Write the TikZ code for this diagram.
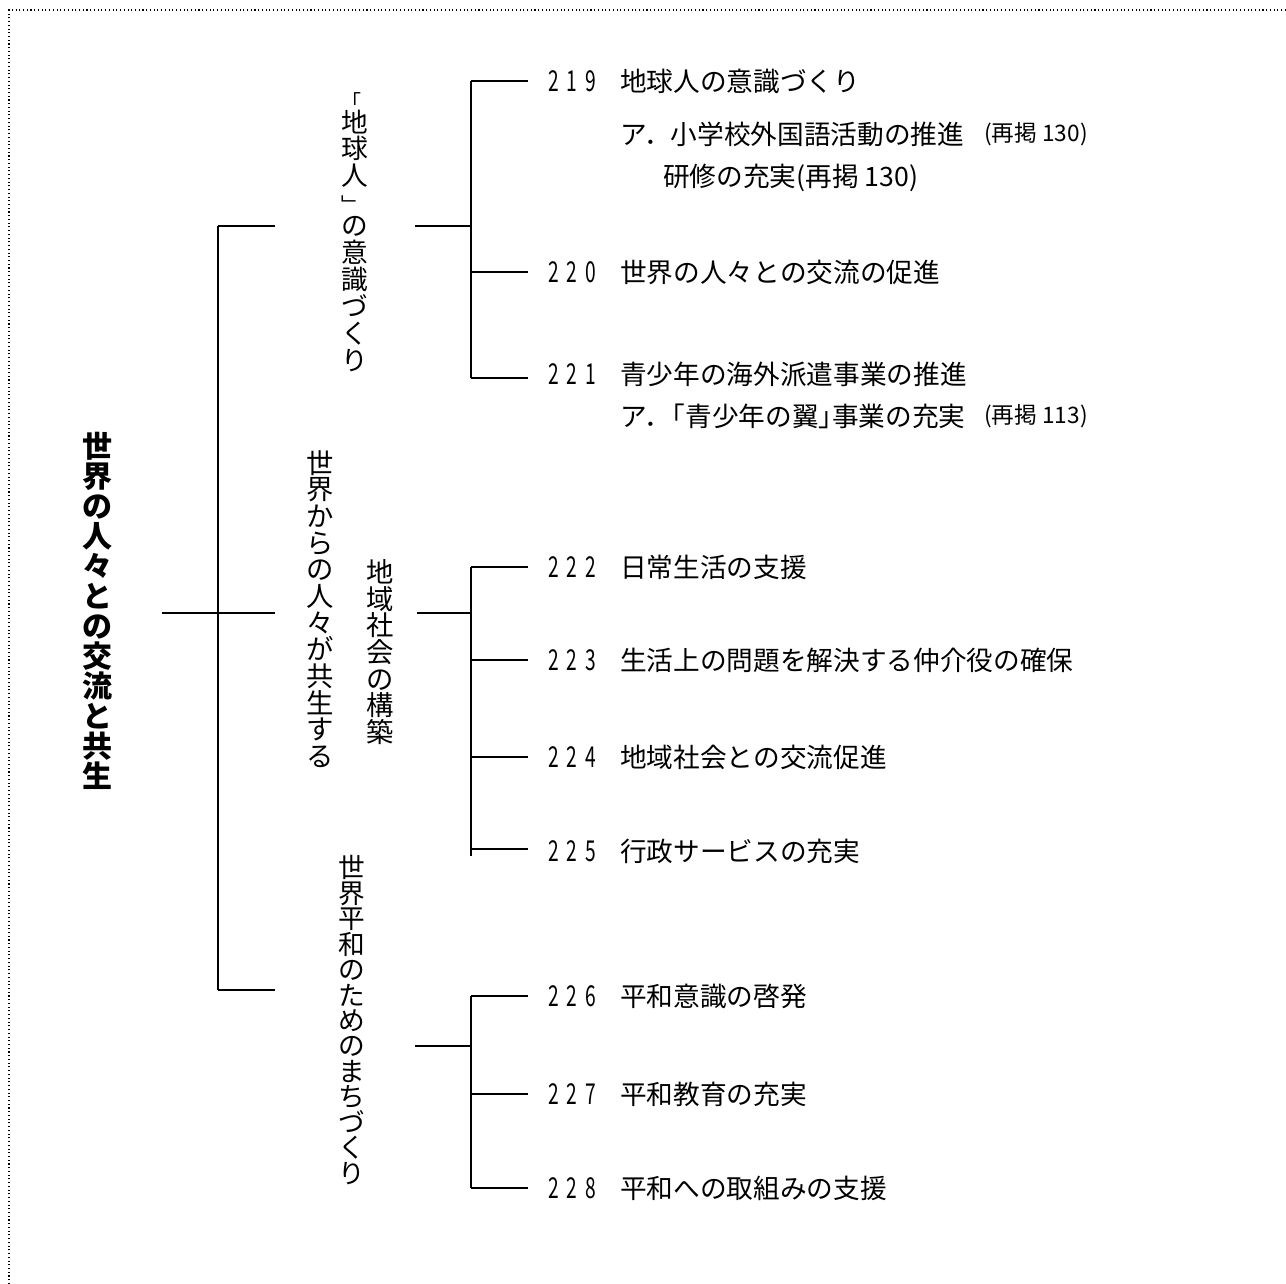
\documentclass[tikz,border=0pt]{standalone}
\usepackage{fontspec}
\usepackage{graphicx}
\setmainfont{Noto Sans CJK JP}
\newcommand\dgt[1]{\makebox[13.9pt][l]{\scalebox{0.72}[1.08]{#1}}}
\newcommand\nmb[3]{\makebox[54pt][l]{\dgt{#1}\dgt{#2}\dgt{#3}}}
\newcommand\brk[1]{\makebox[1em]{\kern-0.3em{\fontsize{15pt}{15pt}\selectfont #1}}}
\tikzset{
  ln/.style={line width=1.3pt},
  vtext/.style={align=center, inner sep=0pt, font=\fontsize{20.5pt}{20pt}\selectfont},
  lab/.style={anchor=west, inner sep=0pt, font=\fontsize{20pt}{22pt}\selectfont},
  smalllab/.style={anchor=west, inner sep=0pt, font=\fontsize{17pt}{19pt}\selectfont},
}
\begin{document}
\begin{tikzpicture}[x=0.75pt,y=-0.75pt]
\useasboundingbox (0,0) rectangle (1286,1284);
\draw[dotted, line width=0.8pt] (9,1284) -- (9,10) -- (1286,10);

% root
\node[vtext, font=\fontsize{22.5pt}{22.5pt}\selectfont\bfseries] (root) at (97,611)
  {世\\界\\の\\人\\々\\と\\の\\交\\流\\と\\共\\生};

% second level
\node[vtext, font=\fontsize{20pt}{20.2pt}\selectfont] (A) at (355,232)
  {\brk{「}\\[-3pt]地\\球\\人\\[0pt]\brk{﹂}\\[-3pt]の\\意\\識\\づ\\く\\り};
\node[vtext] (B1) at (320,609)
  {世\\界\\か\\ら\\の\\人\\々\\が\\共\\生\\す\\る};
\node[vtext] (B2) at (380,652)
  {地\\域\\社\\会\\の\\構\\築};
\node[vtext, font=\fontsize{20pt}{19.1pt}\selectfont] (C) at (352,1020)
  {世\\界\\平\\和\\の\\た\\め\\の\\ま\\ち\\づ\\く\\り};

% top-level tree
\coordinate (r0) at (162,613);
\coordinate (j0) at (218,613);
\coordinate (tA) at (218,226);
\coordinate (tC) at (218,990);
\coordinate (eA) at (275,226);
\coordinate (eB) at (275,613);
\coordinate (eC) at (275,990);
\draw[ln] (r0) -- (j0);
\draw[ln] (tA) -- (tC);
\draw[ln] (tA) -- (eA);
\draw[ln] (j0) -- (eB);
\draw[ln] (tC) -- (eC);

% leaf labels
\node[lab] (n219) at (548,81)   {\nmb219地球人の意識づくり};
\node[lab] (s219a) at (620,134) {ア．小学校外国語活動の推進};
\node[smalllab] (r219a) at (984,134) {(再掲 130)};
\node[lab] (s219b) at (663,178) {研修の充実(再掲 130)};
\node[lab] (n220) at (548,272)  {\nmb220世界の人々との交流の促進};
\node[lab] (n221) at (548,374)  {\nmb221青少年の海外派遣事業の推進};
\node[lab] (s221a) at (620,416) {ア．\kern-0.45em「青少年の翼」\kern-0.5em 事業の充実};
\node[smalllab] (r221a) at (984,416) {(再掲 113)};
\node[lab] (n222) at (548,567)  {\nmb222日常生活の支援};
\node[lab] (n223) at (548,660)  {\nmb223生活上の問題を解決する仲介役の確保};
\node[lab] (n224) at (548,757)  {\nmb224地域社会との交流促進};
\node[lab] (n225) at (548,851)  {\nmb225行政サービスの充実};
\node[lab] (n226) at (548,996)  {\nmb226平和意識の啓発};
\node[lab] (n227) at (548,1094) {\nmb227平和教育の充実};
\node[lab] (n228) at (548,1188) {\nmb228平和への取組みの支援};

% group A
\coordinate (a0) at (415,226);
\coordinate (aj) at (471,226);
\coordinate (a1) at (471,81);
\coordinate (a2) at (471,272);
\coordinate (a3) at (471,378);
\draw[ln] (a0) -- (aj);
\draw[ln] (a1) -- (a3);
\draw[ln] (a1) -- (528,81);
\draw[ln] (a2) -- (528,272);
\draw[ln] (a3) -- (528,378);

% group B
\coordinate (b0) at (417,613);
\coordinate (bj) at (471,613);
\coordinate (b1) at (471,567);
\coordinate (b2) at (471,660);
\coordinate (b3) at (471,757);
\coordinate (b4) at (471,849);
\coordinate (bend) at (471,856);
\draw[ln] (b0) -- (bj);
\draw[ln] (b1) -- (bend);
\draw[ln] (b1) -- (528,567);
\draw[ln] (b2) -- (528,660);
\draw[ln] (b3) -- (528,757);
\draw[ln] (b4) -- (528,849);

% group C
\coordinate (c0) at (415,1046);
\coordinate (cj) at (471,1046);
\coordinate (c1) at (471,996);
\coordinate (c2) at (471,1094);
\coordinate (c3) at (471,1188);
\draw[ln] (c0) -- (cj);
\draw[ln] (c1) -- (c3);
\draw[ln] (c1) -- (528,996);
\draw[ln] (c2) -- (528,1094);
\draw[ln] (c3) -- (528,1188);
\end{tikzpicture}
\end{document}
